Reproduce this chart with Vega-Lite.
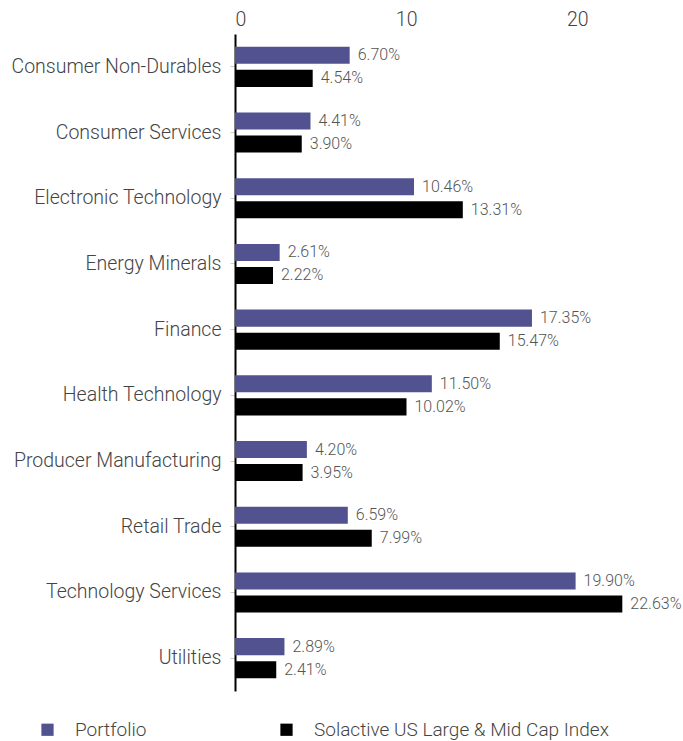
{
  "$schema": "https://vega.github.io/schema/vega-lite/v6.json",
  "autosize": "none",
  "width": 445,
  "height": 657,
  "padding": {"left": 235, "top": 34, "right": 3, "bottom": 50},
  "background": "white",
  "config": {
    "view": {"stroke": null},
    "font": "Roboto",
    "text": {"font": "Roboto"}
  },
  "data": {
    "values": [
      {"sector": "Consumer Non-Durables", "series": "Portfolio", "value": 6.70},
      {"sector": "Consumer Non-Durables", "series": "Solactive US Large & Mid Cap Index", "value": 4.54},
      {"sector": "Consumer Services", "series": "Portfolio", "value": 4.41},
      {"sector": "Consumer Services", "series": "Solactive US Large & Mid Cap Index", "value": 3.90},
      {"sector": "Electronic Technology", "series": "Portfolio", "value": 10.46},
      {"sector": "Electronic Technology", "series": "Solactive US Large & Mid Cap Index", "value": 13.31},
      {"sector": "Energy Minerals", "series": "Portfolio", "value": 2.61},
      {"sector": "Energy Minerals", "series": "Solactive US Large & Mid Cap Index", "value": 2.22},
      {"sector": "Finance", "series": "Portfolio", "value": 17.35},
      {"sector": "Finance", "series": "Solactive US Large & Mid Cap Index", "value": 15.47},
      {"sector": "Health Technology", "series": "Portfolio", "value": 11.50},
      {"sector": "Health Technology", "series": "Solactive US Large & Mid Cap Index", "value": 10.02},
      {"sector": "Producer Manufacturing", "series": "Portfolio", "value": 4.20},
      {"sector": "Producer Manufacturing", "series": "Solactive US Large & Mid Cap Index", "value": 3.95},
      {"sector": "Retail Trade", "series": "Portfolio", "value": 6.59},
      {"sector": "Retail Trade", "series": "Solactive US Large & Mid Cap Index", "value": 7.99},
      {"sector": "Technology Services", "series": "Portfolio", "value": 19.90},
      {"sector": "Technology Services", "series": "Solactive US Large & Mid Cap Index", "value": 22.63},
      {"sector": "Utilities", "series": "Portfolio", "value": 2.89},
      {"sector": "Utilities", "series": "Solactive US Large & Mid Cap Index", "value": 2.41}
    ]
  },
  "encoding": {
    "y": {
      "field": "sector",
      "type": "nominal",
      "sort": null,
      "title": null,
      "scale": {"paddingInner": 0.39, "paddingOuter": 0.195},
      "axis": {
        "domainColor": "#000000",
        "domainWidth": 2,
        "tickColor": "#cccccc",
        "tickSize": 5,
        "labelFontSize": 19.5,
        "labelColor": "#444444",
        "labelFont": "Roboto",
        "labelFontWeight": 300,
        "labelPadding": 9,
        "labelLimit": 300
      }
    },
    "yOffset": {
      "field": "series",
      "type": "nominal",
      "sort": ["Portfolio", "Solactive US Large & Mid Cap Index"],
      "scale": {"paddingInner": 0.26, "paddingOuter": 0}
    },
    "x": {
      "field": "value",
      "type": "quantitative",
      "title": null,
      "scale": {"domain": [0, 26], "nice": false},
      "axis": {
        "orient": "top",
        "values": [0, 10, 20],
        "domain": false,
        "ticks": false,
        "grid": false,
        "labelFontSize": 19.5,
        "labelColor": "#444444",
        "labelFont": "Roboto",
        "labelFontWeight": 300,
        "labelPadding": 5
      }
    }
  },
  "layer": [
    {
      "mark": {"type": "bar"},
      "encoding": {
        "color": {
          "field": "series",
          "type": "nominal",
          "scale": {
            "domain": ["Portfolio", "Solactive US Large & Mid Cap Index"],
            "range": ["#51528f", "#000000"]
          },
          "legend": {
            "title": null,
            "orient": "none",
            "legendX": -197,
            "legendY": 686,
            "direction": "horizontal",
            "columns": 2,
            "columnPadding": 130,
            "symbolType": "square",
            "symbolSize": 150,
            "symbolStrokeWidth": 0,
            "labelFontSize": 19,
            "labelColor": "#444444",
            "labelFont": "Roboto",
            "labelFontWeight": 300,
            "labelOffset": 18,
            "labelLimit": 400
          }
        }
      }
    },
    {
      "mark": {
        "type": "text",
        "align": "left",
        "baseline": "middle",
        "dx": 8,
        "fontSize": 16,
        "fontWeight": 300,
        "color": "#555555",
        "text": {"expr": "format(datum.value, '.2f') + '%'"}
      }
    }
  ]
}
